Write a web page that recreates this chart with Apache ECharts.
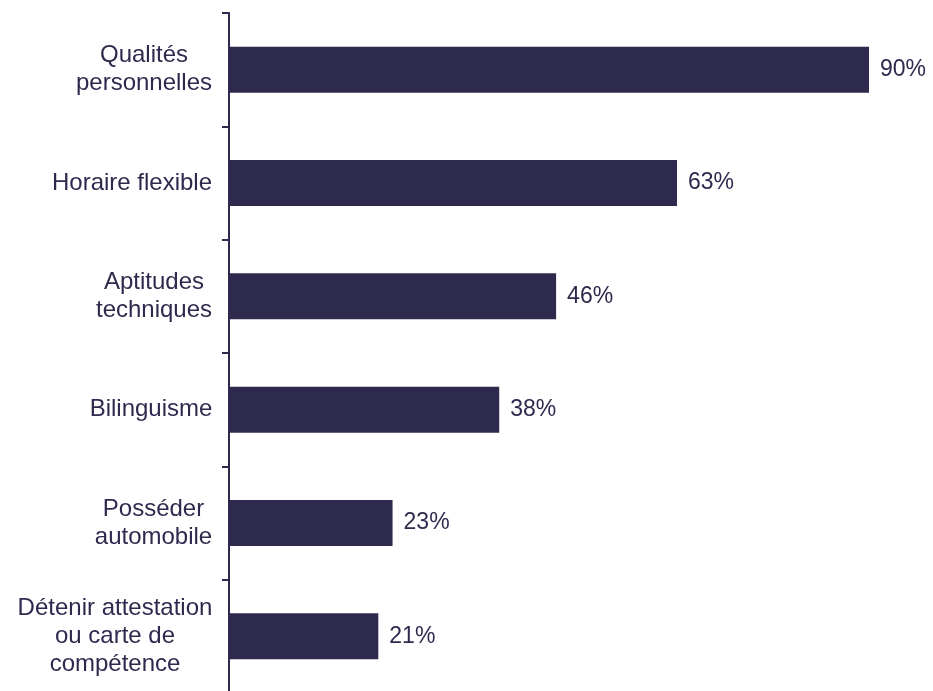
<!DOCTYPE html>
<html>
<head>
<meta charset="utf-8">
<script src="https://cdn.jsdelivr.net/npm/echarts@6/dist/echarts.min.js"></script>
<style>html,body{margin:0;padding:0;background:#fff;}#c{width:933px;height:691px;}</style>
</head>
<body>
<div id="c"></div>
<script>
const categories = ["Qualités\npersonnelles", "Horaire flexible", "Aptitudes\ntechniques", "Bilinguisme", "Posséder\nautomobile", "Détenir attestation\nou carte de\ncompétence"];
const values = [90, 63, 46, 38, 23, 21];

const FONT_SIZE = 24;
const FONT_FAMILY = 'Liberation Sans, Arial, sans-serif';
const COLOR = '#2e2a4e';
const ctx = document.createElement('canvas').getContext('2d');
ctx.font = FONT_SIZE + 'px ' + FONT_FAMILY;
const rich = {};
categories.forEach((c, i) => {
  const w = Math.max(...c.split('\n').map(s => ctx.measureText(s).width));
  rich['l' + i] = { width: Math.ceil(w) + 1, align: 'center', fontSize: FONT_SIZE, fontFamily: FONT_FAMILY, color: COLOR, lineHeight: 28 };
});

const chart = echarts.init(document.getElementById('c'));
chart.setOption({
  animation: false,
  grid: { left: 229, top: 13, width: 640, height: 680, outerBoundsMode: 'none', containLabel: false },
  xAxis: { type: 'value', min: 0, max: 90, show: false },
  yAxis: {
    type: 'category', inverse: true, data: categories,
    axisLine: { show: true, lineStyle: { color: COLOR, width: 2 } },
    axisTick: { show: true, length: 7, lineStyle: { color: COLOR, width: 2 } },
    axisLabel: {
      margin: 16, align: 'right',
      formatter: (v, i) => v.split('\n').map(s => '{l' + i + '|' + s + '}').join('\n'),
      rich: rich
    }
  },
  series: [{
    type: 'bar', data: values, barWidth: 46,
    itemStyle: { color: COLOR },
    label: { show: true, position: 'right', distance: 11, formatter: '{c}%', fontSize: 23, fontFamily: FONT_FAMILY, color: COLOR }
  }]
});
</script>
</body>
</html>
